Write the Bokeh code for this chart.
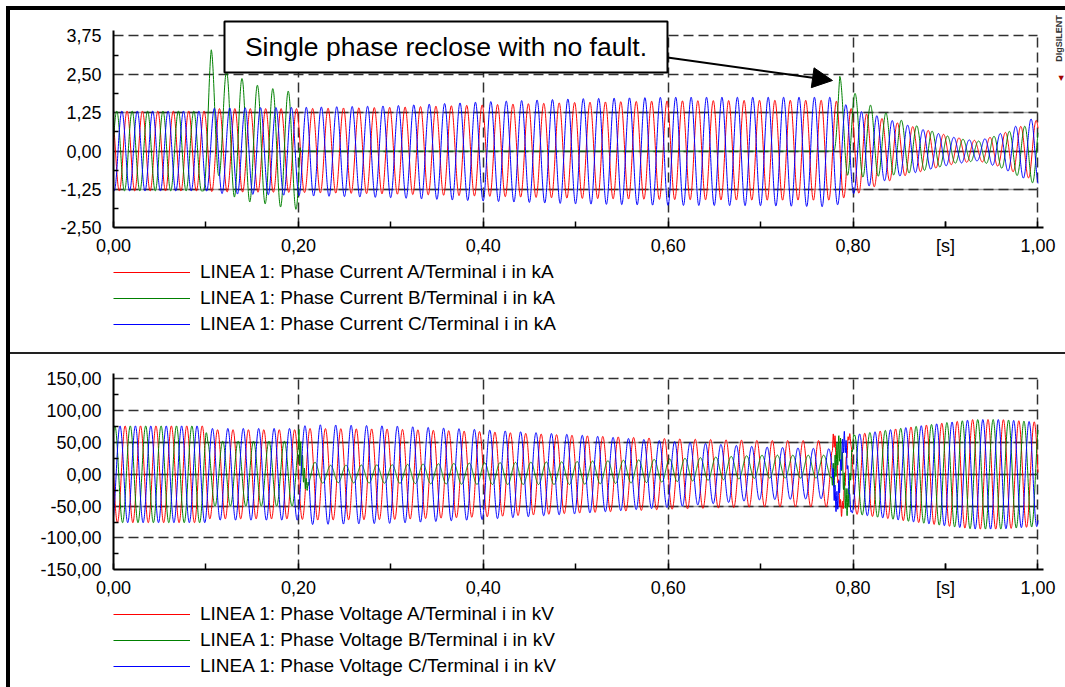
import numpy as np
from bokeh.plotting import figure
from bokeh.models import (FixedTicker, Legend, LegendItem, BoxAnnotation, Label, Arrow,
                          NormalHead, Range1d, Grid, Div)
from bokeh.layouts import column, row
from bokeh.embed import file_html
from bokeh.resources import INLINE

FREQ_HZ = 60.0
BURST_HZ = 500.0
STEP_S = 0.0002

# ---------------- tick labels ----------------
x_tick_values = [0.0, 0.2, 0.4, 0.6, 0.8, 0.9, 1.0]
x_tick_labels = ["0,00", "0,20", "0,40", "0,60", "0,80", "[s]", "1,00"]
x_minor_values = [0.1, 0.3, 0.5, 0.7, 0.9]
x_grid_values = [0.2, 0.4, 0.6, 0.8, 1.0]

i_tick_values = [-2.5, -1.25, 0.0, 1.25, 2.5, 3.75]
i_tick_labels = ["-2,50", "-1,25", "0,00", "1,25", "2,50", "3,75"]
i_minor_values = [-1.875, -0.625, 0.625, 1.875, 3.125]

v_tick_values = [-150, -100, -50, 0, 50, 100, 150]
v_tick_labels = ["-150,00", "-100,00", "-50,00", "0,00", "50,00", "100,00", "150,00"]
v_minor_values = [-125, -75, -25, 25, 75, 125]

current_labels = ["LINEA 1: Phase Current A/Terminal i in kA",
                  "LINEA 1: Phase Current B/Terminal i in kA",
                  "LINEA 1: Phase Current C/Terminal i in kA"]
voltage_labels = ["LINEA 1: Phase Voltage A/Terminal i in kV",
                  "LINEA 1: Phase Voltage B/Terminal i in kV",
                  "LINEA 1: Phase Voltage C/Terminal i in kV"]

# ---------------- phase currents (kA): envelopes ----------------
ia_up_t = [0.0, 0.100, 0.110, 0.200, 0.300, 0.400, 0.500, 0.600, 0.700, 0.780, 0.800, 0.820, 0.850, 0.880, 0.910, 0.935, 0.960, 1.000]
ia_up_v = [1.30, 1.30, 1.38, 1.38, 1.42, 1.50, 1.58, 1.63, 1.65, 1.65, 1.35, 1.15, 0.90, 0.68, 0.45, 0.33, 0.55, 1.02]
ia_lo_t = ia_up_t
ia_lo_v = [-1.30, -1.30, -1.33, -1.35, -1.40, -1.47, -1.54, -1.58, -1.60, -1.60, -1.45, -1.20, -0.85, -0.62, -0.42, -0.32, -0.52, -1.00]
ia_ph_t = [0.0, 0.200, 0.215, 0.780, 0.795, 1.0]
ia_ph_v = [44, 44, 27, 27, 44, 44]

ib_up_t = [0.0, 0.0974, 0.1057, 0.1224, 0.1390, 0.1557, 0.1724, 0.1890, 0.2016, 0.2020, 0.7790, 0.7856, 0.8023, 0.8190, 0.8356, 0.8523, 0.8690, 0.890, 0.910, 0.935, 0.960, 1.0]
ib_up_v = [1.30, 1.30, 3.30, 2.57, 2.36, 2.14, 2.03, 1.95, 1.93, 0.0, 0.0, 2.43, 1.87, 1.49, 1.24, 1.00, 0.82, 0.60, 0.42, 0.32, 0.55, 0.95]
ib_lo_t = [0.0, 0.0974, 0.1140, 0.1307, 0.1474, 0.1640, 0.1807, 0.1974, 0.2016, 0.2020, 0.7790, 0.7939, 0.8106, 0.8273, 0.8440, 0.870, 0.890, 0.910, 0.935, 0.960, 1.0]
ib_lo_v = [-1.30, -1.30, -0.80, -1.50, -1.66, -1.72, -1.82, -1.90, -1.90, 0.0, 0.0, -0.79, -0.85, -0.82, -0.78, -0.68, -0.55, -0.40, -0.32, -0.55, -1.12]
ib_ph_t = [0.0, 0.0952, 0.0974, 0.7790, 0.7791, 1.0]
ib_ph_v = [-76, -76, -123, -123, -49, -49]

ic_up_t = ia_up_t
ic_up_v = [1.30, 1.30, 1.40, 1.42, 1.47, 1.60, 1.70, 1.75, 1.75, 1.75, 1.35, 1.20, 0.92, 0.66, 0.44, 0.32, 0.58, 1.15]
ic_lo_t = ia_up_t
ic_lo_v = [-1.30, -1.30, -1.38, -1.45, -1.52, -1.63, -1.72, -1.77, -1.78, -1.82, -1.40, -1.10, -0.82, -0.62, -0.42, -0.32, -0.55, -1.10]
ic_ph_t = [0.0, 0.200, 0.215, 0.780, 0.795, 1.0]
ic_ph_v = [164, 164, 184, 184, 164, 164]

# ---------------- phase voltages (kV): envelopes ----------------
va_up_t = [0.0, 0.100, 0.102, 0.200, 0.210, 0.300, 0.400, 0.500, 0.600, 0.700, 0.777, 0.800, 0.850, 0.900, 0.930, 0.960, 1.000]
va_up_v = [76, 76, 70, 70, 72, 71, 67, 61, 56, 53, 53, 62, 72, 81, 86, 86, 82]
va_lo_t = va_up_t
va_lo_v = [-76, -76, -70, -70, -72, -71, -67, -61, -55, -51, -51, -62, -72, -81, -86, -86, -82]
va_ph_t = [0.0, 1.0]
va_ph_v = [88, 88]
va_hf_t = [0.0, 0.7765, 0.7785, 0.7920, 0.8000, 1.0]
va_hf_v = [0, 0, 12, 10, 0, 0]

vb_up_t = [0.0, 0.100, 0.102, 0.200, 0.2030, 0.230, 0.300, 0.400, 0.500, 0.600, 0.700, 0.777, 0.800, 0.850, 0.900, 0.930, 0.960, 1.000]
vb_up_v = [76, 76, 52, 52, 25, 14, 15, 18, 20, 24, 30, 30, 62, 72, 81, 86, 86, 82]
vb_lo_t = vb_up_t
vb_lo_v = [-76, -76, -50, -50, -20, -13, -14, -16, -16, -12, -6, -6, -62, -72, -81, -86, -86, -82]
vb_ph_t = [0.0, 1.0]
vb_ph_v = [-32, -32]
vb_hf_t = [0.0, 0.2000, 0.2005, 0.2060, 0.2130, 0.7765, 0.7785, 0.7950, 0.8020, 1.0]
vb_hf_v = [0, 0, 28, 15, 0, 0, 22, 20, 0, 0]

vc_up_t = va_up_t
vc_up_v = [76, 76, 72, 72, 78, 76, 70, 62, 52, 43, 40, 62, 72, 81, 86, 86, 82]
vc_lo_t = va_up_t
vc_lo_v = [-76, -76, -72, -72, -79, -77, -71, -62, -52, -40, -38, -62, -72, -81, -86, -86, -82]
vc_ph_t = [0.0, 1.0]
vc_ph_v = [-152, -152]
vc_hf_t = [0.0, 0.7765, 0.7785, 0.7920, 0.8000, 1.0]
vc_hf_v = [0, 0, 18, 15, 0, 0]

t = np.arange(0.0, 1.0 + 1e-9, STEP_S)


def build(up_t, up_v, lo_t, lo_v, ph_t, ph_v, hf_t=None, hf_v=None):
    up = np.interp(t, up_t, up_v)
    lo = np.interp(t, lo_t, lo_v)
    ph = np.radians(np.interp(t, ph_t, ph_v))
    y = 0.5 * (up + lo) + 0.5 * (up - lo) * np.cos(2 * np.pi * FREQ_HZ * t + ph)
    if hf_t is not None:
        y = y + np.interp(t, hf_t, hf_v) * np.sin(2 * np.pi * BURST_HZ * t)
    return y


ia = build(ia_up_t, ia_up_v, ia_lo_t, ia_lo_v, ia_ph_t, ia_ph_v)
ib = build(ib_up_t, ib_up_v, ib_lo_t, ib_lo_v, ib_ph_t, ib_ph_v)
ic = build(ic_up_t, ic_up_v, ic_lo_t, ic_lo_v, ic_ph_t, ic_ph_v)
va = build(va_up_t, va_up_v, va_lo_t, va_lo_v, va_ph_t, va_ph_v, va_hf_t, va_hf_v)
vb = build(vb_up_t, vb_up_v, vb_lo_t, vb_lo_v, vb_ph_t, vb_ph_v, vb_hf_t, vb_hf_v)
vc = build(vc_up_t, vc_up_v, vc_lo_t, vc_lo_v, vc_ph_t, vc_ph_v, vc_hf_t, vc_hf_v)

COLORS = ["#ff0000", "#008000", "#0000ff"]
FONT = "Liberation Sans"
GRID_DARK = "#303030"
# whole canvas of each panel is the plot frame; x from page 10 px to 1065 px
X_RANGE = (-0.11141, 1.02975)
X_AXIS_BOUNDS = (0.0, 1.00595)


def make_panel(height, y_range, y_axis_bounds, yticks, ylabels, yminor, outer, inner):
    y0, y1 = y_axis_bounds
    p = figure(width=1055, height=height, x_range=Range1d(*X_RANGE), y_range=Range1d(*y_range),
               output_backend="svg", toolbar_location=None,
               min_border_left=0, min_border_right=0, min_border_top=0, min_border_bottom=0)
    p.outline_line_color = None
    p.background_fill_color = "white"
    p.border_fill_color = "white"

    xa = p.xaxis[0]
    xa.fixed_location = y0
    xa.bounds = X_AXIS_BOUNDS
    xa.ticker = FixedTicker(ticks=x_tick_values, minor_ticks=x_minor_values)
    xa.major_label_overrides = dict(zip(x_tick_values, x_tick_labels))
    xa.major_tick_in = 6
    xa.major_tick_out = 0
    xa.minor_tick_in = 6
    xa.minor_tick_out = 0
    xa.major_label_standoff = 8

    ya = p.yaxis[0]
    ya.fixed_location = 0.0
    ya.bounds = y_axis_bounds
    ya.ticker = FixedTicker(ticks=yticks, minor_ticks=yminor)
    ya.major_label_overrides = dict(zip(yticks, ylabels))
    ya.major_tick_in = 0
    ya.major_tick_out = 0
    ya.minor_tick_in = 5
    ya.minor_tick_out = 0
    ya.major_label_standoff = 12

    for ax in (xa, ya):
        ax.axis_line_color = "black"
        ax.axis_line_width = 2
        ax.major_tick_line_color = "black"
        ax.major_tick_line_width = 1.5
        ax.minor_tick_line_color = "black"
        ax.minor_tick_line_width = 1.5
        ax.major_label_text_font = FONT
        ax.major_label_text_font_size = "18px"
        ax.major_label_text_color = "black"

    top_grid = max(yticks)
    p.xgrid.ticker = FixedTicker(ticks=x_grid_values)
    p.xgrid.cross_bounds = (y0, top_grid)
    p.ygrid.ticker = FixedTicker(ticks=outer)
    p.ygrid.cross_bounds = (0.0, 1.0)
    for g in (p.xgrid[0], p.ygrid[0]):
        g.grid_line_color = GRID_DARK
        g.grid_line_dash = "10 5"
        g.grid_line_width = 1.5
    g1 = Grid(dimension=1, ticker=FixedTicker(ticks=inner), cross_bounds=(0.0, 1.0),
              grid_line_color="#9a9a9a", grid_line_width=1.5)
    g2 = Grid(dimension=1, ticker=FixedTicker(ticks=inner), cross_bounds=(0.0, 1.0),
              grid_line_color=GRID_DARK, grid_line_width=1.5, grid_line_dash="10 5")
    p.add_layout(g1)
    p.add_layout(g2)
    return p


def add_legend(p, renderers, labels, loc):
    items = [LegendItem(label=lab, renderers=[r]) for lab, r in zip(labels, renderers)]
    leg = Legend(items=items, location=loc, orientation="vertical",
                 glyph_width=77, glyph_height=26, label_height=26, label_standoff=10,
                 spacing=0, padding=0, margin=0, border_line_color=None,
                 background_fill_alpha=0, label_text_font=FONT, label_text_font_size="19px",
                 label_text_color="black")
    p.add_layout(leg)


# ---------------- top panel (page y 10..352) ----------------
p1 = make_panel(342, (-6.5592, 4.5736), (-2.5, 3.913), i_tick_values, i_tick_labels, i_minor_values,
                outer=[2.5, 3.75], inner=[-1.25, 0.0, 1.25])
r_ia = p1.line(t, ia, line_color=COLORS[0], line_width=1)
r_ib = p1.line(t, ib, line_color=COLORS[1], line_width=1)
r_ic = p1.line(t, ic, line_color=COLORS[2], line_width=1)
add_legend(p1, [r_ia, r_ib, r_ic], current_labels, (103, 15))

box = BoxAnnotation(left=0.12007, right=0.59924, bottom=2.5553, top=4.2155,
                    fill_color="white", fill_alpha=1.0, line_color="black", line_alpha=1.0,
                    line_width=2)
p1.add_layout(box)
p1.add_layout(Label(x=0.35965, y=3.3854, text="Single phase reclose with no fault.",
                    text_align="center", text_baseline="middle", text_font=FONT,
                    text_font_size="26.5px", text_color="black"))
p1.add_layout(Arrow(x_start=0.59924, y_start=3.0436, x_end=0.77772, y_end=2.2949,
                    line_color="black", line_width=2,
                    end=NormalHead(size=20, fill_color="black", line_color="black")))
p1.add_layout(Label(x=1.0232, y=3.662, text="DIgSILENT", angle=np.pi / 2,
                    text_align="center", text_baseline="middle", text_font=FONT,
                    text_font_style="bold", text_font_size="9px", text_color="#333333"))
p1.add_layout(Label(x=1.0248, y=2.36, text="\u25c0", angle=np.pi / 2,
                    text_align="center", text_baseline="middle",
                    text_font_size="7px", text_color="#a00000"))

# ---------------- bottom panel (page y 354..687) ----------------
p2 = make_panel(333, (-334.87, 188.17), (-150, 157.85), v_tick_values, v_tick_labels, v_minor_values,
                outer=[-100, 100, 150], inner=[-50, 0, 50])
r_va = p2.line(t, va, line_color=COLORS[0], line_width=1)
r_vb = p2.line(t, vb, line_color=COLORS[1], line_width=1)
r_vc = p2.line(t, vc, line_color=COLORS[2], line_width=1)
add_legend(p2, [r_va, r_vb, r_vc], voltage_labels, (103, 8))
p2.add_layout(Label(x=0.5, y=-300, text=" ", text_font_size="1px", text_alpha=0.0))

# ---------------- frame layout ----------------
def bar(w, h, color=None):
    st = {"background-color": color} if color else {}
    return Div(text="", width=w, height=h, margin=0, styles=st)


inner_col = column(p1, bar(1055, 2, "#222222"), p2, spacing=0)
layout = column(
    bar(1065, 6),
    row(bar(6, 681),
        column(bar(1059, 4, "black"), row(bar(4, 677, "black"), inner_col, spacing=0), spacing=0),
        spacing=0),
    spacing=0)

open("out.html", "w").write(file_html(layout, INLINE))
